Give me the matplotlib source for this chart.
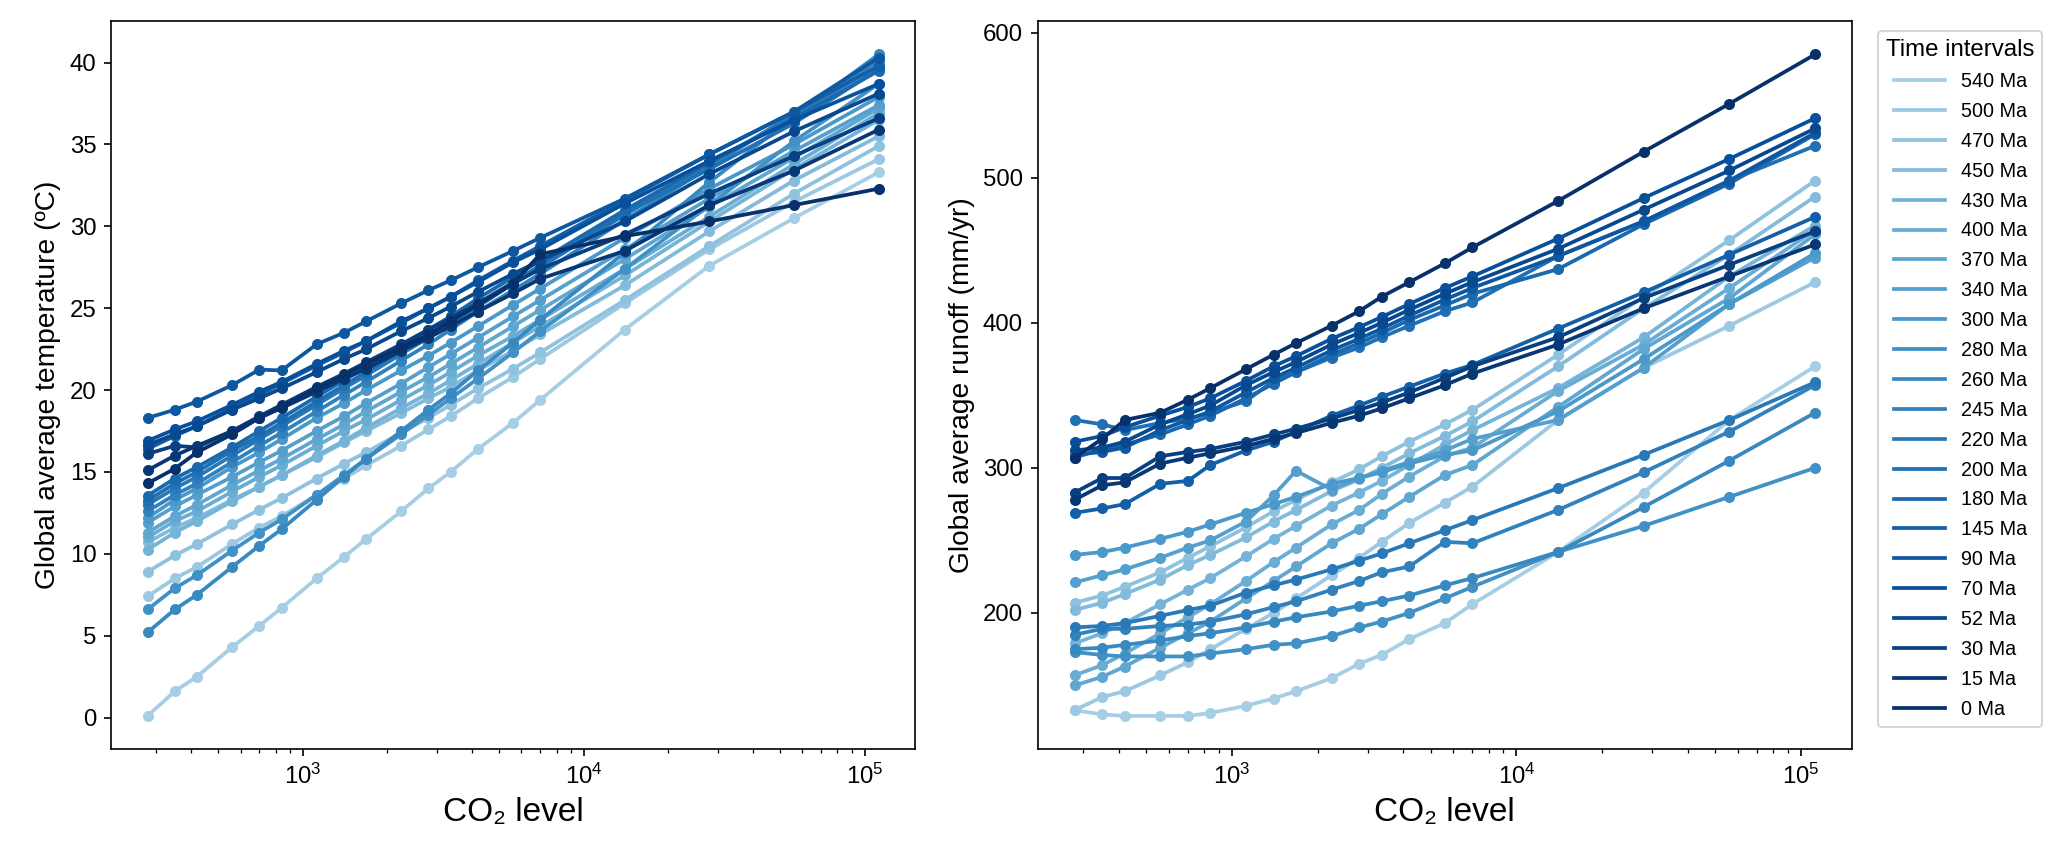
import matplotlib
matplotlib.use('Agg')
import matplotlib.pyplot as plt
import numpy as np

plt.rcParams['font.family'] = ['Liberation Sans', 'DejaVu Sans']

# CO2 levels (ppm) shared by every time interval
co2 = [280, 350, 420, 560, 700, 840, 1120, 1400, 1680, 2240, 2800, 3360,
       4200, 5600, 7000, 14000, 28000, 56000, 112000]

intervals = ['540 Ma', '500 Ma', '470 Ma', '450 Ma', '430 Ma', '400 Ma',
             '370 Ma', '340 Ma', '300 Ma', '280 Ma', '260 Ma', '245 Ma',
             '220 Ma', '200 Ma', '180 Ma', '145 Ma', '90 Ma', '70 Ma',
             '52 Ma', '30 Ma', '15 Ma', '0 Ma']

# Global average temperature (degC), one row per interval
temperature = [
    [0.1, 1.6, 2.5, 4.3, 5.6, 6.7, 8.5, 9.8, 10.9, 12.6, 14.0, 15.0, 16.4, 18.0, 19.4, 23.7, 27.6, 30.5, 33.3],
    [7.4, 8.5, 9.2, 10.6, 11.6, 12.3, 13.6, 14.6, 15.4, 16.6, 17.6, 18.4, 19.5, 20.8, 21.9, 25.3, 28.6, 31.5, 34.1],
    [8.9, 9.9, 10.6, 11.8, 12.7, 13.4, 14.6, 15.5, 16.2, 17.4, 18.3, 19.1, 20.1, 21.3, 22.3, 25.5, 28.8, 32.0, 34.9],
    [10.7, 11.6, 12.2, 13.3, 14.1, 14.8, 15.9, 16.8, 17.5, 18.6, 19.5, 20.2, 21.2, 22.4, 23.4, 26.4, 29.7, 32.8, 35.5],
    [10.25, 11.3, 12.0, 13.2, 14.1, 14.8, 16.0, 16.9, 17.7, 18.9, 19.8, 20.6, 21.6, 22.9, 23.9, 27.0, 30.3, 33.5, 36.5],
    [11.0, 12.0, 12.6, 13.8, 14.7, 15.4, 16.6, 17.5, 18.2, 19.4, 20.3, 21.1, 22.1, 23.3, 24.3, 27.4, 30.6, 33.8, 36.9],
    [11.3, 12.3, 13.0, 14.2, 15.1, 15.8, 17.0, 17.9, 18.7, 19.9, 20.8, 21.6, 22.6, 23.9, 24.9, 28.0, 31.2, 34.2, 37.2],
    [11.9, 12.9, 13.6, 14.7, 15.6, 16.3, 17.5, 18.4, 19.2, 20.4, 21.4, 22.2, 23.2, 24.5, 25.5, 28.6, 31.7, 34.6, 37.4],
    [12.2, 13.3, 14.0, 15.3, 16.2, 17.0, 18.3, 19.2, 20.0, 21.2, 22.1, 22.9, 23.9, 25.2, 26.2, 29.3, 32.3, 35.0, 37.9],
    [6.6, 7.9, 8.7, 10.2, 11.3, 12.1, 13.6, 14.8, 15.8, 17.3, 18.5, 19.5, 20.7, 22.3, 23.6, 27.4, 31.3, 35.2, 38.7],
    [5.2, 6.6, 7.5, 9.2, 10.5, 11.5, 13.3, 14.7, 15.8, 17.5, 18.8, 19.8, 21.2, 22.9, 24.3, 28.4, 32.7, 36.7, 40.5],
    [12.6, 13.6, 14.3, 15.6, 16.6, 17.4, 18.7, 19.7, 20.5, 21.8, 22.8, 23.7, 24.8, 26.1, 27.1, 30.4, 33.6, 36.9, 40.1],
    [13.0, 14.0, 14.7, 16.0, 17.0, 17.8, 19.1, 20.1, 20.9, 22.2, 23.2, 24.0, 25.1, 26.5, 27.5, 30.7, 33.8, 36.8, 39.8],
    [13.25, 14.3, 15.0, 16.3, 17.2, 18.0, 19.3, 20.3, 21.1, 22.4, 23.4, 24.2, 25.3, 26.6, 27.6, 30.8, 33.5, 36.3, 39.6],
    [13.55, 14.6, 15.3, 16.5, 17.5, 18.3, 19.6, 20.6, 21.4, 22.7, 23.7, 24.5, 25.6, 26.9, 27.9, 31.0, 33.9, 36.6, 39.5],
    [16.4, 17.2, 17.8, 18.9, 19.7, 20.4, 21.5, 22.3, 23.0, 24.1, 25.0, 25.7, 26.7, 27.9, 28.8, 31.6, 34.4, 37.0, 39.8],
    [18.3, 18.8, 19.3, 20.3, 21.25, 21.2, 22.8, 23.5, 24.2, 25.3, 26.1, 26.7, 27.5, 28.5, 29.3, 31.7, 34.4, 37.0, 40.3],
    [16.9, 17.6, 18.1, 19.1, 19.9, 20.5, 21.6, 22.4, 23.0, 24.2, 25.0, 25.7, 26.6, 27.8, 28.6, 31.4, 34.0, 36.5, 38.7],
    [16.65, 17.3, 17.8, 18.8, 19.5, 20.1, 21.1, 21.9, 22.5, 23.6, 24.4, 25.1, 26.0, 27.1, 27.9, 30.3, 33.2, 35.8, 38.1],
    [16.1, 16.6, 16.5, 17.5, 18.4, 19.1, 20.2, 21.0, 21.7, 22.8, 23.7, 24.4, 25.3, 26.5, 27.4, 29.5, 32.0, 34.3, 36.6],
    [15.1, 16.0, 16.6, 17.5, 18.3, 18.9, 19.9, 20.7, 21.3, 22.4, 23.2, 23.9, 24.8, 25.9, 26.8, 28.5, 31.3, 33.4, 35.9],
    [14.3, 15.2, 16.2, 17.3, 18.3, 19.0, 20.1, 20.9, 21.6, 22.6, 23.4, 24.2, 25.2, 26.5, 28.3, 29.4, 30.3, 31.3, 32.3],
]

# Global average runoff (mm/yr), one row per interval
runoff = [
    [133, 130, 129, 129, 129, 131, 136, 141, 146, 155, 165, 171, 182, 193, 206, 242, 283, 333, 370],
    [133, 142, 146, 157, 166, 175, 189, 200, 210, 226, 238, 249, 262, 276, 287, 333, 369, 398, 428],
    [207, 212, 218, 228, 238, 246, 259, 270, 278, 290, 299, 308, 318, 330, 340, 378, 418, 457, 498],
    [202, 207, 213, 223, 233, 240, 252, 263, 271, 284, 292, 300, 310, 322, 332, 370, 410, 447, 487],
    [179, 186, 193, 206, 216, 224, 239, 251, 260, 274, 283, 291, 302, 316, 326, 355, 390, 432, 467],
    [157, 164, 172, 186, 197, 206, 222, 235, 245, 261, 271, 282, 294, 308, 314, 353, 385, 424, 464],
    [150, 156, 163, 176, 186, 194, 210, 222, 232, 248, 258, 268, 280, 295, 302, 342, 382, 417, 461],
    [221, 226, 230, 238, 245, 250, 263, 281, 298, 285, 293, 298, 304, 312, 320, 333, 369, 413, 445],
    [240, 242, 245, 251, 256, 261, 269, 275, 280, 289, 293, 297, 303, 309, 312, 339, 375, 413, 448],
    [173, 171, 170, 170, 170, 172, 175, 178, 179, 184, 190, 194, 200, 210, 218, 242, 260, 280, 300],
    [175, 176, 178, 181, 184, 186, 190, 194, 197, 201, 205, 208, 212, 219, 224, 242, 273, 305, 338],
    [185, 189, 189, 191, 192, 194, 199, 204, 208, 216, 222, 228, 232, 249, 248, 271, 297, 325, 357],
    [190, 191, 193, 198, 202, 205, 214, 219, 223, 230, 236, 241, 248, 257, 264, 286, 309, 333, 359],
    [333, 330, 326, 331, 334, 338, 346, 360, 366, 376, 383, 390, 398, 408, 414, 446, 470, 498, 522],
    [307, 313, 316, 323, 330, 336, 348, 358, 366, 378, 386, 393, 402, 412, 420, 437, 468, 496, 530],
    [269, 272, 275, 289, 291, 302, 312, 318, 325, 336, 343, 349, 356, 365, 371, 396, 421, 447, 473],
    [309, 311, 314, 326, 333, 339, 352, 362, 369, 381, 389, 396, 405, 416, 424, 446, 470, 498, 531],
    [318, 322, 328, 336, 342, 348, 360, 370, 377, 389, 397, 404, 413, 424, 432, 458, 486, 513, 541],
    [312, 314, 318, 330, 337, 343, 357, 366, 373, 385, 393, 400, 409, 420, 428, 451, 478, 505, 534],
    [283, 293, 293, 308, 311, 313, 318, 323, 327, 334, 340, 345, 352, 362, 370, 390, 417, 440, 463],
    [278, 288, 290, 303, 307, 310, 315, 320, 324, 331, 336, 341, 348, 357, 365, 385, 410, 432, 454],
    [307, 320, 333, 338, 347, 355, 368, 378, 386, 398, 408, 418, 428, 441, 452, 484, 518, 551, 585],
]

colors = plt.cm.Blues(np.linspace(0.35, 1.0, len(intervals)))

fig = plt.figure(figsize=(2067 / 150, 855 / 150), dpi=150)
ax_t = fig.add_axes([0.0537, 0.124, 0.389, 0.851])
ax_r = fig.add_axes([0.502, 0.124, 0.394, 0.851])

for ax, data, ylabel in [(ax_t, temperature, 'Global average temperature (ºC)'),
                         (ax_r, runoff, 'Global average runoff (mm/yr)')]:
    for label, values, color in zip(intervals, data, colors):
        ax.plot(co2, values, '-', color=color, lw=1.8, label=label)
        ax.plot(co2, values, 'o', color=color, ms=4.3)
    ax.set_xscale('log')
    ax.set_xlabel('CO₂ level', fontsize=16)
    ax.set_ylabel(ylabel, fontsize=13.5)
    ax.tick_params(labelsize=11.5)

ax_t.set_yticks(range(0, 45, 5))
ax_r.set_yticks([200, 300, 400, 500, 600])

leg = ax_r.legend(title='Time intervals', loc='upper left',
                  bbox_to_anchor=(1.02, 1.0), fontsize=9.5, title_fontsize=11.5,
                  handlelength=2.6, labelspacing=0.55)

fig.savefig('out.png', dpi=150)
